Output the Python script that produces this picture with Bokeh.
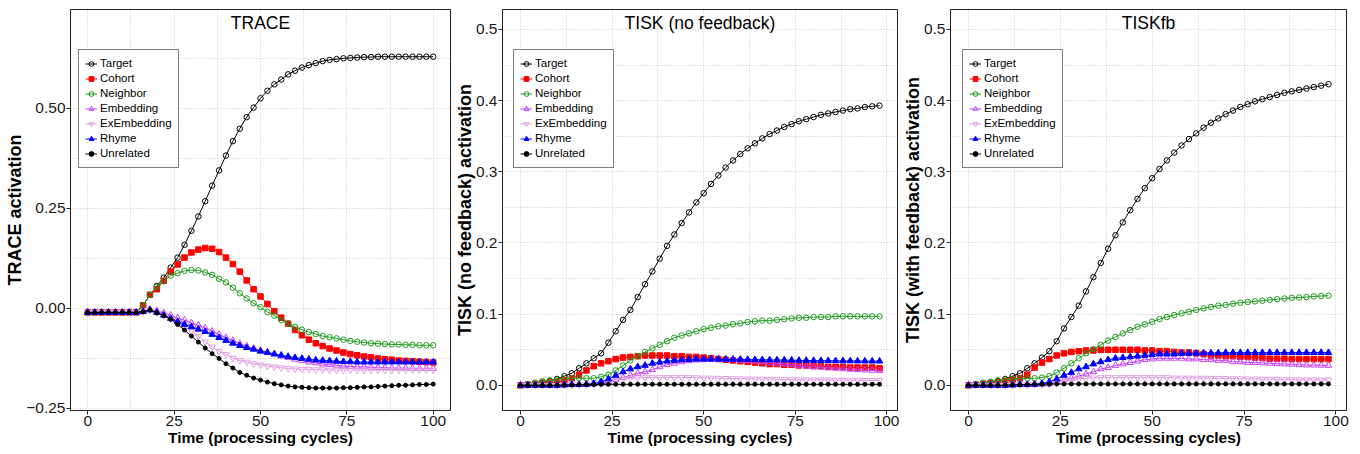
from bokeh.plotting import figure
from bokeh.layouts import row
from bokeh.models import Range1d, FixedTicker, Legend, LegendItem, Label
from bokeh.embed import file_html
from bokeh.resources import INLINE

FONT = "Liberation Sans"

# ---------------- data ----------------
series_names = ["Target", "Cohort", "Neighbor", "Embedding", "ExEmbedding", "Rhyme", "Unrelated"]

time_trace = list(range(0, 101, 2))
time_tisk = list(range(0, 99, 2))

trace_target = [-0.010, -0.010, -0.010, -0.010, -0.010, -0.010, -0.010, -0.010,
                0.008, 0.034, 0.056, 0.077, 0.102, 0.127, 0.159, 0.194, 0.230, 0.268, 0.307, 0.345,
                0.382, 0.418, 0.449, 0.478, 0.502, 0.525, 0.544, 0.560, 0.572, 0.585, 0.594, 0.602,
                0.608, 0.613, 0.618, 0.621, 0.623, 0.625, 0.626, 0.627, 0.628, 0.628, 0.629, 0.629,
                0.629, 0.629, 0.629, 0.629, 0.629, 0.629, 0.629]
trace_cohort = [-0.010, -0.010, -0.010, -0.010, -0.010, -0.010, -0.010, -0.010,
                0.008, 0.034, 0.048, 0.069, 0.092, 0.110, 0.127, 0.140, 0.147, 0.151, 0.149, 0.141,
                0.127, 0.111, 0.092, 0.070, 0.048, 0.030, 0.011, -0.007, -0.023, -0.038, -0.054, -0.067,
                -0.078, -0.087, -0.094, -0.100, -0.105, -0.110, -0.114, -0.117, -0.120, -0.122, -0.125,
                -0.127, -0.128, -0.130, -0.131, -0.132, -0.133, -0.134, -0.135]
trace_neighbor = [-0.010, -0.010, -0.010, -0.010, -0.010, -0.010, -0.010, -0.010,
                  0.008, 0.034, 0.054, 0.068, 0.082, 0.088, 0.094, 0.096, 0.095, 0.090, 0.084, 0.074,
                  0.065, 0.052, 0.038, 0.025, 0.013, 0.003, -0.009, -0.018, -0.029, -0.038, -0.046,
                  -0.053, -0.059, -0.064, -0.069, -0.072, -0.075, -0.078, -0.081, -0.083, -0.085,
                  -0.087, -0.088, -0.089, -0.090, -0.090, -0.091, -0.091, -0.092, -0.092, -0.092]
trace_embedding = [-0.010, -0.010, -0.010, -0.010, -0.010, -0.010, -0.010, -0.010,
                   -0.008, -0.003, -0.006, -0.011, -0.017, -0.024, -0.029, -0.036, -0.042, -0.049,
                   -0.057, -0.065, -0.073, -0.080, -0.088, -0.094, -0.100, -0.105, -0.110, -0.114,
                   -0.119, -0.123, -0.127, -0.130, -0.134, -0.136, -0.139, -0.140, -0.142, -0.144,
                   -0.145, -0.146, -0.146, -0.147, -0.148, -0.148, -0.149, -0.149, -0.149, -0.150,
                   -0.150, -0.150, -0.150]
trace_exembedding = [-0.010, -0.010, -0.010, -0.010, -0.010, -0.010, -0.010, -0.010,
                     -0.008, -0.004, -0.011, -0.018, -0.027, -0.036, -0.046, -0.057, -0.069, -0.084,
                     -0.096, -0.107, -0.115, -0.124, -0.130, -0.134, -0.138, -0.141, -0.144, -0.146,
                     -0.148, -0.150, -0.151, -0.152, -0.152, -0.153, -0.153, -0.154, -0.154, -0.154,
                     -0.154, -0.154, -0.154, -0.154, -0.154, -0.154, -0.154, -0.154, -0.154, -0.154,
                     -0.154, -0.154, -0.154]
trace_rhyme = [-0.010, -0.010, -0.010, -0.010, -0.010, -0.010, -0.010, -0.010,
               -0.008, -0.004, -0.010, -0.017, -0.025, -0.033, -0.040, -0.046, -0.052, -0.058,
               -0.065, -0.073, -0.080, -0.087, -0.093, -0.098, -0.102, -0.107, -0.110, -0.114,
               -0.117, -0.120, -0.123, -0.125, -0.127, -0.129, -0.130, -0.131, -0.132, -0.133,
               -0.133, -0.134, -0.134, -0.134, -0.134, -0.134, -0.134, -0.134, -0.134, -0.134,
               -0.134, -0.134, -0.134]
trace_unrelated = [-0.010, -0.010, -0.010, -0.010, -0.010, -0.010, -0.010, -0.010,
                   -0.008, -0.004, -0.011, -0.018, -0.027, -0.040, -0.054, -0.069, -0.084, -0.099,
                   -0.113, -0.125, -0.138, -0.149, -0.160, -0.167, -0.174, -0.179, -0.184, -0.188,
                   -0.191, -0.194, -0.196, -0.197, -0.198, -0.199, -0.199, -0.199, -0.199, -0.198,
                   -0.198, -0.197, -0.196, -0.196, -0.195, -0.194, -0.193, -0.192, -0.192, -0.191,
                   -0.190, -0.190, -0.189]

tisk_target = [0.000, 0.001, 0.002, 0.004, 0.006, 0.009, 0.013, 0.017, 0.024, 0.031,
               0.038, 0.045, 0.060, 0.076, 0.092, 0.106, 0.124, 0.142, 0.160, 0.178,
               0.196, 0.212, 0.228, 0.243, 0.257, 0.270, 0.283, 0.295, 0.306, 0.316,
               0.325, 0.333, 0.340, 0.347, 0.353, 0.358, 0.363, 0.367, 0.371, 0.374,
               0.377, 0.380, 0.382, 0.384, 0.386, 0.388, 0.389, 0.391, 0.392, 0.393]
tisk_cohort = [0.000, 0.001, 0.002, 0.003, 0.004, 0.005, 0.007, 0.010, 0.015, 0.021,
               0.027, 0.031, 0.034, 0.037, 0.039, 0.040, 0.041, 0.042, 0.042, 0.042,
               0.042, 0.041, 0.041, 0.040, 0.040, 0.039, 0.038, 0.037, 0.036, 0.035,
               0.034, 0.033, 0.032, 0.031, 0.030, 0.030, 0.029, 0.029, 0.028, 0.028,
               0.027, 0.027, 0.026, 0.026, 0.026, 0.025, 0.025, 0.025, 0.025, 0.024]
tisk_neighbor = [0.000, 0.002, 0.004, 0.006, 0.007, 0.008, 0.010, 0.010, 0.010, 0.010,
                 0.010, 0.012, 0.015, 0.021, 0.028, 0.035, 0.041, 0.047, 0.052, 0.057,
                 0.062, 0.067, 0.070, 0.073, 0.076, 0.079, 0.081, 0.083, 0.084, 0.086,
                 0.087, 0.089, 0.090, 0.091, 0.091, 0.092, 0.093, 0.094, 0.095, 0.095,
                 0.096, 0.096, 0.096, 0.097, 0.097, 0.097, 0.097, 0.097, 0.097, 0.097]
tisk_embedding = [0.000, 0.000, 0.000, 0.000, 0.000, 0.000, 0.0005, 0.001, 0.001, 0.001,
                  0.002, 0.003, 0.005, 0.008, 0.011, 0.014, 0.017, 0.019, 0.022, 0.026,
                  0.029, 0.031, 0.033, 0.0345, 0.0355, 0.036, 0.0365, 0.0365, 0.0362, 0.036,
                  0.0352, 0.0345, 0.034, 0.033, 0.032, 0.031, 0.030, 0.029, 0.028, 0.027,
                  0.0262, 0.0255, 0.0245, 0.024, 0.0232, 0.0225, 0.022, 0.0215, 0.021, 0.0205]
tisk_exembedding = [0.000, 0.000, 0.000, 0.000, 0.000, 0.000, 0.0005, 0.001, 0.001, 0.001,
                    0.002, 0.004, 0.006, 0.008, 0.009, 0.010, 0.0105, 0.011, 0.011, 0.011,
                    0.011, 0.011, 0.011, 0.011, 0.0108, 0.0105, 0.0103, 0.010, 0.0098, 0.0096,
                    0.0094, 0.0092, 0.009, 0.0088, 0.0087, 0.0085, 0.0083, 0.0082, 0.008, 0.0079,
                    0.0078, 0.0077, 0.0076, 0.0075, 0.0074, 0.0073, 0.0072, 0.0071, 0.0071, 0.007]
tisk_rhyme = [0.000, 0.000, 0.000, 0.000, 0.000, 0.000, 0.0005, 0.001, 0.001, 0.0015,
              0.0025, 0.005, 0.009, 0.014, 0.019, 0.023, 0.026, 0.028, 0.031, 0.0325,
              0.034, 0.035, 0.0357, 0.0362, 0.0367, 0.0367, 0.0367, 0.0367, 0.0367, 0.0366,
              0.0365, 0.0363, 0.0361, 0.036, 0.0358, 0.0357, 0.0355, 0.0353, 0.0351, 0.035,
              0.0348, 0.0347, 0.0346, 0.0345, 0.0344, 0.0343, 0.0342, 0.0341, 0.034, 0.034]
tisk_unrelated = [0.000, 0.000, 0.000, 0.000, 0.000, 0.0002, 0.0004, 0.0006, 0.0008, 0.001,
                  0.0012, 0.0013, 0.0014, 0.0015, 0.0015, 0.0015, 0.0015, 0.0015, 0.0015, 0.0015,
                  0.0015, 0.0015, 0.0015, 0.0015, 0.0015, 0.0015, 0.0015, 0.0015, 0.0015, 0.0015,
                  0.0015, 0.0015, 0.0015, 0.0015, 0.0015, 0.0015, 0.0015, 0.0015, 0.0015, 0.0015,
                  0.0015, 0.0015, 0.0015, 0.0015, 0.0015, 0.0015, 0.0015, 0.0015, 0.0015, 0.0015]

tiskfb_target = [0.000, 0.001, 0.002, 0.004, 0.006, 0.009, 0.013, 0.017, 0.024, 0.031,
                 0.039, 0.048, 0.062, 0.080, 0.096, 0.112, 0.132, 0.152, 0.172, 0.192,
                 0.211, 0.229, 0.246, 0.262, 0.277, 0.291, 0.304, 0.316, 0.327, 0.337,
                 0.346, 0.354, 0.362, 0.369, 0.375, 0.381, 0.386, 0.391, 0.395, 0.399,
                 0.402, 0.405, 0.408, 0.411, 0.413, 0.415, 0.417, 0.419, 0.421, 0.423]
tiskfb_cohort = [0.000, 0.001, 0.002, 0.003, 0.004, 0.006, 0.008, 0.010, 0.015, 0.025,
                 0.032, 0.037, 0.042, 0.045, 0.047, 0.048, 0.049, 0.049, 0.050, 0.050,
                 0.050, 0.050, 0.050, 0.050, 0.049, 0.049, 0.048, 0.048, 0.047, 0.046,
                 0.046, 0.045, 0.044, 0.042, 0.042, 0.041, 0.041, 0.040, 0.040, 0.039,
                 0.0385, 0.0375, 0.0375, 0.0375, 0.037, 0.037, 0.037, 0.037, 0.037, 0.037]
tiskfb_neighbor = [0.000, 0.002, 0.004, 0.005, 0.007, 0.008, 0.009, 0.0095, 0.0097, 0.010,
                   0.011, 0.013, 0.018, 0.024, 0.031, 0.038, 0.045, 0.051, 0.057, 0.063,
                   0.068, 0.073, 0.0777, 0.0824, 0.0857, 0.0894, 0.0932, 0.096, 0.0988, 0.1012,
                   0.1035, 0.1059, 0.1082, 0.1101, 0.112, 0.113, 0.1148, 0.1162, 0.1171, 0.118,
                   0.119, 0.120, 0.121, 0.122, 0.123, 0.1235, 0.124, 0.125, 0.1255, 0.126]
tiskfb_embedding = [0.000, 0.000, 0.000, 0.000, 0.000, 0.000, 0.0005, 0.001, 0.001, 0.001,
                    0.0015, 0.002, 0.005, 0.008, 0.010, 0.013, 0.016, 0.019, 0.023, 0.025,
                    0.028, 0.030, 0.032, 0.034, 0.036, 0.037, 0.038, 0.038, 0.038, 0.038,
                    0.037, 0.037, 0.036, 0.036, 0.035, 0.035, 0.033, 0.033, 0.032, 0.032,
                    0.0315, 0.031, 0.0305, 0.030, 0.0296, 0.029, 0.0286, 0.0284, 0.0282, 0.028]
tiskfb_exembedding = [0.000, 0.000, 0.000, 0.000, 0.000, 0.000, 0.0005, 0.001, 0.001, 0.001,
                      0.001, 0.002, 0.004, 0.006, 0.0075, 0.009, 0.010, 0.0105, 0.011, 0.011,
                      0.011, 0.011, 0.011, 0.011, 0.011, 0.011, 0.011, 0.011, 0.0105, 0.0105,
                      0.0105, 0.0103, 0.0102, 0.010, 0.010, 0.0098, 0.0096, 0.0094, 0.0092, 0.009,
                      0.0088, 0.0086, 0.0084, 0.0082, 0.008, 0.0079, 0.0078, 0.0077, 0.0076, 0.0075]
tiskfb_rhyme = [0.000, 0.000, 0.000, 0.000, 0.000, 0.000, 0.0005, 0.001, 0.001, 0.0015,
                0.0026, 0.005, 0.009, 0.014, 0.018, 0.023, 0.026, 0.030, 0.033, 0.036,
                0.038, 0.039, 0.040, 0.041, 0.042, 0.043, 0.044, 0.044, 0.044, 0.045,
                0.045, 0.045, 0.0455, 0.0455, 0.0455, 0.046, 0.046, 0.046, 0.046, 0.046,
                0.046, 0.046, 0.046, 0.046, 0.046, 0.046, 0.046, 0.046, 0.046, 0.046]
tiskfb_unrelated = [0.000, 0.000, 0.000, 0.000, 0.000, 0.0003, 0.0006, 0.001, 0.0012, 0.0015,
                    0.0017, 0.0018, 0.0019, 0.002, 0.002, 0.002, 0.002, 0.002, 0.002, 0.002,
                    0.002, 0.002, 0.002, 0.002, 0.002, 0.002, 0.002, 0.002, 0.002, 0.002,
                    0.002, 0.002, 0.002, 0.002, 0.002, 0.002, 0.002, 0.002, 0.002, 0.002,
                    0.002, 0.002, 0.002, 0.002, 0.002, 0.002, 0.002, 0.002, 0.002, 0.002]

trace_ticks = [-0.25, 0.0, 0.25, 0.50]
trace_tick_labels = ["\u22120.25", "0.00", "0.25", "0.50"]
tisk_ticks = [0.0, 0.1, 0.2, 0.3, 0.4, 0.5]
tisk_tick_labels = ["0.0", "0.1", "0.2", "0.3", "0.4", "0.5"]
time_ticks = [0, 25, 50, 75, 100]

# ---------------- styles ----------------
STYLE = {
    "Target":      dict(marker="circle", color="#000000", fill=None, size=5.5),
    "Cohort":      dict(marker="square", color="#FF0000", fill="#FF0000", size=5.5),
    "Neighbor":    dict(marker="circle", color="#1E9B1E", fill=None, size=5.5),
    "Embedding":   dict(marker="triangle", color="#C040F8", fill=None, size=6.5),
    "ExEmbedding": dict(marker="inverted_triangle", color="#E0A0E0", fill=None, size=6.5),
    "Rhyme":       dict(marker="triangle", color="#0000FF", fill="#0000FF", size=6.5),
    "Unrelated":   dict(marker="circle", color="#000000", fill="#000000", size=4.0),
}

FIG_H = 448
TOP = 9
TICK_FS = 15.5
BOTTOM_AXIS = 4 + 1 + 1.117 * TICK_FS + 0 + 1.117 * 15.5   # tick + standoffs + two text rows
FRAME_H = FIG_H - TOP - BOTTOM_AXIS


def make_panel(times, values, xr, yr, yticks, ylabels, yminor, ylabel, title,
               width, min_left, min_right, legend_x):
    p = figure(width=width, height=FIG_H,
               x_range=Range1d(*xr), y_range=Range1d(*yr),
               output_backend="svg", toolbar_location=None,
               min_border_left=min_left, min_border_right=min_right,
               min_border_top=TOP, min_border_bottom=0)
    p.background_fill_color = "white"
    p.border_fill_color = "white"
    p.outline_line_color = "#222222"
    p.outline_line_width = 1

    p.xaxis.ticker = FixedTicker(ticks=time_ticks, minor_ticks=[12.5, 37.5, 62.5, 87.5])
    p.yaxis.ticker = FixedTicker(ticks=yticks, minor_ticks=yminor)
    p.yaxis.major_label_overrides = {t: l for t, l in zip(yticks, ylabels)}

    for ax in (p.xaxis[0], p.yaxis[0]):
        ax.axis_line_color = "#222222"
        ax.major_tick_line_color = "#222222"
        ax.major_tick_out = 4
        ax.major_tick_in = 0
        ax.minor_tick_line_color = None
        ax.major_label_text_font = FONT
        ax.major_label_text_font_size = "%.1fpx" % TICK_FS
        ax.major_label_text_color = "#1a1a1a"
        ax.major_label_standoff = 1
        ax.axis_label_text_font = FONT
        ax.axis_label_text_font_style = "bold"
        ax.axis_label_text_color = "black"
    p.xaxis.axis_label = "Time (processing cycles)"
    p.xaxis.axis_label_text_font_size = "15.5px"
    p.xaxis.axis_label_standoff = 0
    p.yaxis.axis_label = ylabel
    p.yaxis.axis_label_text_font_size = "18px"
    p.yaxis.axis_label_standoff = -2

    for g in (p.xgrid[0], p.ygrid[0]):
        g.grid_line_color = "#c8c8c8"
        g.grid_line_dash = "1 2"
        g.grid_line_width = 1
        g.minor_grid_line_color = "#c8c8c8"
        g.minor_grid_line_dash = "1 2"
        g.minor_grid_line_width = 1

    items = []
    for name in series_names:
        st = STYLE[name]
        vals = values[name]
        lr = p.line(times, vals, line_color=st["color"], line_width=1.0)
        if st["fill"] is None:
            sr = p.scatter(times, vals, marker=st["marker"], size=st["size"],
                           line_color=st["color"], fill_color="white", fill_alpha=0.0,
                           line_width=1.0)
        else:
            sr = p.scatter(times, vals, marker=st["marker"], size=st["size"],
                           line_color=st["color"], fill_color=st["fill"], line_width=1.0)
        items.append(LegendItem(label=name, renderers=[lr, sr]))

    leg_h = 7 * 15 + 2 * 6
    leg = Legend(items=items, location=(legend_x, FRAME_H - 40 - leg_h))
    leg.label_text_font = FONT
    leg.label_text_font_size = "11.5px"
    leg.label_text_color = "black"
    leg.glyph_width = 12
    leg.glyph_height = 15
    leg.label_height = 15
    leg.label_standoff = 3
    leg.spacing = 0
    leg.padding = 6
    leg.margin = 0
    leg.border_line_color = "black"
    leg.border_line_width = 1
    leg.background_fill_color = "white"
    leg.background_fill_alpha = 1.0
    p.add_layout(leg, "center")

    ty = yr[1] - 13.0 / FRAME_H * (yr[1] - yr[0])
    p.add_layout(Label(x=(xr[0] + xr[1]) / 2.0, y=ty, text=title,
                       text_align="center", text_baseline="middle",
                       text_font=FONT, text_font_size="17.5px", text_color="black"))
    return p


trace_vals = dict(zip(series_names, [trace_target, trace_cohort, trace_neighbor, trace_embedding,
                                     trace_exembedding, trace_rhyme, trace_unrelated]))
tisk_vals = dict(zip(series_names, [tisk_target, tisk_cohort, tisk_neighbor, tisk_embedding,
                                    tisk_exembedding, tisk_rhyme, tisk_unrelated]))
tiskfb_vals = dict(zip(series_names, [tiskfb_target, tiskfb_cohort, tiskfb_neighbor, tiskfb_embedding,
                                      tiskfb_exembedding, tiskfb_rhyme, tiskfb_unrelated]))

p1 = make_panel(time_trace, trace_vals, (-5, 105), (-0.255, 0.747),
                trace_ticks, trace_tick_labels, [-0.125, 0.125, 0.375, 0.625],
                "TRACE activation", "TRACE", 451, 70, 1, 8)
p2 = make_panel(time_tisk, tisk_vals, (-4.9, 102.9), (-0.0353, 0.528),
                tisk_ticks, tisk_tick_labels, [0.05, 0.15, 0.25, 0.35, 0.45],
                "TISK (no feedback) activation", "TISK (no feedback)", 448, 51, 2, 11)
p3 = make_panel(time_tisk, tiskfb_vals, (-4.9, 102.9), (-0.0353, 0.528),
                tisk_ticks, tisk_tick_labels, [0.05, 0.15, 0.25, 0.35, 0.45],
                "TISK (with feedback) activation", "TISKfb", 455, 51, 8, 12)

layout = row(p1, p2, p3)
open("out.html", "w").write(file_html(layout, INLINE))
